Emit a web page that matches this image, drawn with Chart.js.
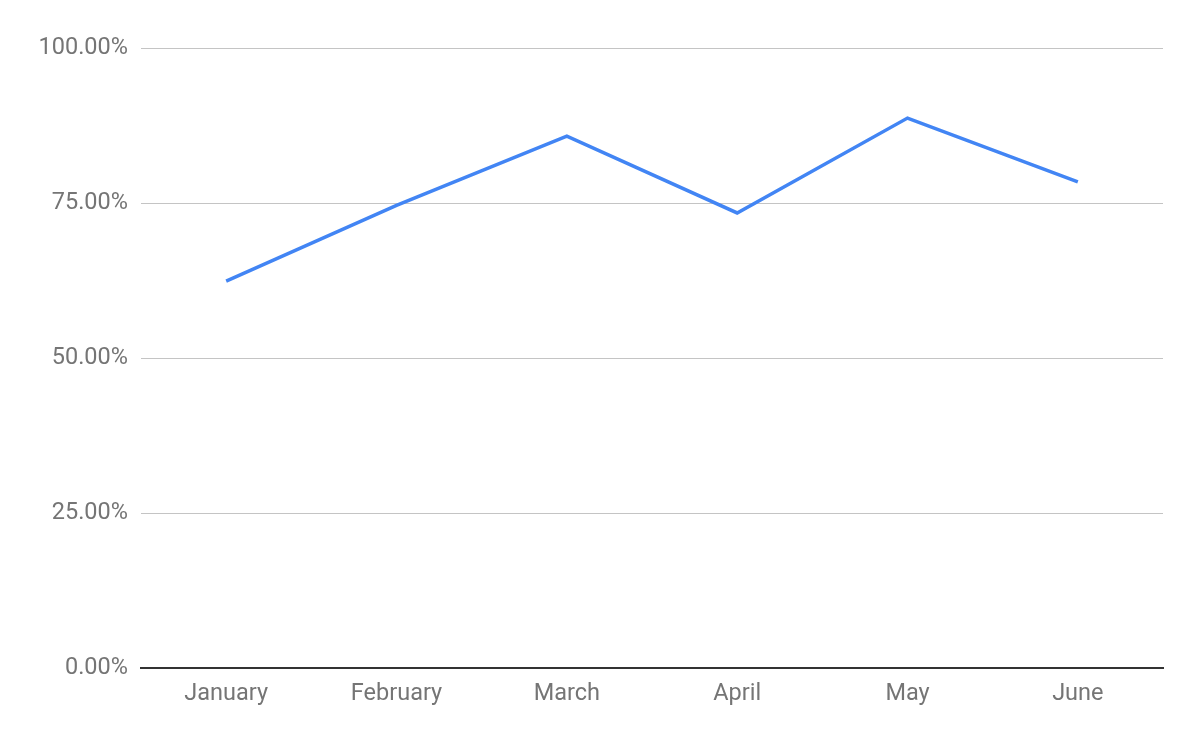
<!DOCTYPE html>
<html>
<head>
<meta charset="utf-8">
<script src="https://cdn.jsdelivr.net/npm/chart.js@4"></script>
<style>
  html, body { margin: 0; padding: 0; background: #fff; }
  #wrap { position: relative; width: 1200px; height: 742px; }
</style>
</head>
<body>
<div id="wrap"><canvas id="myChart" width="1200" height="742"></canvas></div>
<script>
const months = ["January", "February", "March", "April", "May", "June"];
const rates = [62.4, 74.6, 85.8, 73.4, 88.7, 78.4];
const yTicks = [0, 25, 50, 75, 100];

const ctx = document.getElementById("myChart");

new Chart(ctx, {
  type: 'line',
  data: {
    labels: months,
    datasets: [{
      data: rates,
      borderColor: '#4285f4',
      borderWidth: 3.5,
      pointRadius: 0,
      pointHoverRadius: 0,
      tension: 0,
      fill: false
    }]
  },
  options: {
    responsive: false,
    animation: false,
    layout: { padding: { top: 48, right: 37, left: 0, bottom: 0 } },
    plugins: {
      legend: { display: false },
      tooltip: { enabled: false }
    },
    scales: {
      x: {
        offset: true,
        grid: { display: false, drawTicks: false },
        border: { display: true, color: '#333333', width: 2 },
        ticks: {
          color: '#757575',
          padding: 12,
          maxRotation: 0,
          font: { family: 'Roboto', size: 23.5 }
        },
        afterFit: (scale) => { scale.height = 74; }
      },
      y: {
        min: 0,
        max: 100,
        afterBuildTicks: (scale) => { scale.ticks = yTicks.map(v => ({ value: v })); },
        grid: {
          drawTicks: false,
          color: (c) => c.tick && c.tick.value === 0 ? 'rgba(0,0,0,0)' : '#c4c4c4',
          lineWidth: 1
        },
        border: { display: false },
        ticks: {
          color: '#757575',
          padding: 13,
          font: { family: 'Roboto', size: 23.5 },
          callback: (v) => v.toFixed(2) + '%'
        },
        afterFit: (scale) => { scale.width = 141; }
      }
    }
  }
});
</script>
</body>
</html>
